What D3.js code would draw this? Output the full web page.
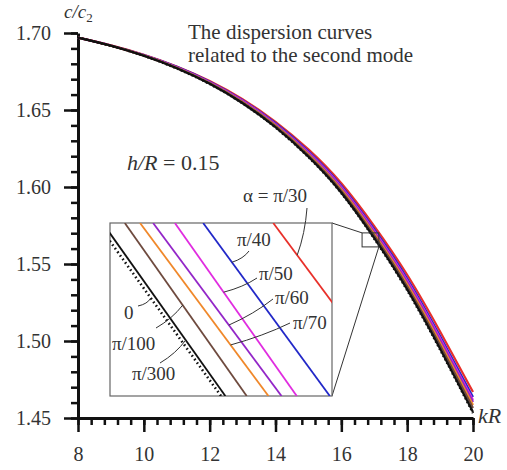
<!DOCTYPE html>
<html>
<head>
<meta charset="utf-8">
<script src="https://cdn.jsdelivr.net/npm/d3@7"></script>
<style>
  body { margin: 0; background: #fff; }
  text { font-family: "Liberation Serif", "Times New Roman", serif; fill: #333; }
</style>
</head>
<body>
<div id="viz"></div>
<script>
// kR grid and c/c2 values
const kR = [8, 9, 10, 11, 12, 13, 14, 15, 16, 17, 18, 19, 20];
const cAlpha0   = [1.697, 1.6917, 1.6852, 1.6770, 1.6669, 1.6543, 1.6386, 1.6194, 1.5960, 1.5664, 1.5330, 1.4944, 1.4532];
const cAlpha300 = [1.697, 1.6917, 1.6852, 1.6771, 1.6670, 1.6544, 1.6388, 1.6197, 1.5963, 1.5668, 1.5335, 1.4950, 1.4539];
const cAlpha100 = [1.697, 1.6918, 1.6853, 1.6773, 1.6674, 1.6549, 1.6395, 1.6206, 1.5975, 1.5684, 1.5354, 1.4972, 1.4565];
const cAlpha70  = [1.697, 1.6918, 1.6854, 1.6775, 1.6676, 1.6553, 1.6400, 1.6213, 1.5984, 1.5695, 1.5368, 1.4989, 1.4584];
const cAlpha60  = [1.697, 1.6918, 1.6855, 1.6777, 1.6679, 1.6557, 1.6406, 1.6220, 1.5994, 1.5707, 1.5382, 1.5006, 1.4604];
const cAlpha50  = [1.697, 1.6919, 1.6856, 1.6778, 1.6681, 1.6560, 1.6409, 1.6225, 1.6000, 1.5715, 1.5392, 1.5017, 1.4617];
const cAlpha40  = [1.697, 1.6919, 1.6857, 1.6780, 1.6684, 1.6563, 1.6414, 1.6232, 1.6009, 1.5726, 1.5406, 1.5033, 1.4636];
const cAlpha30  = [1.697, 1.6920, 1.6859, 1.6783, 1.6688, 1.6570, 1.6423, 1.6244, 1.6024, 1.5746, 1.5430, 1.5062, 1.4669];

const alphaLabels = ['0', 'π/300', 'π/100', 'π/70', 'π/60', 'π/50', 'π/40', 'α = π/30'];
const colorsList = ['#111', '#111', '#6e4a3e', '#f0882a', '#9326c8', '#e02ce0', '#2228c8', '#e8302a'];

// zoom window (inset): kR where each line crosses the top and bottom of the window
const insetKR = [16.63, 17.14];
const insetC = [1.5611, 1.5702];
const insetTopKR    = [16.600, 16.613, 16.664, 16.699, 16.729, 16.779, 16.844, 17.005];
const insetBottomKR = [16.885, 16.895, 16.944, 16.994, 17.024, 17.059, 17.135, 17.301];

const yTicks = [1.45, 1.50, 1.55, 1.60, 1.65, 1.70];
const xTicks = [8, 10, 12, 14, 16, 18, 20];

const width = 507, height = 470;
const margin = { top: 33, right: 34, bottom: 52, left: 78 };

const series = [cAlpha0, cAlpha300, cAlpha100, cAlpha70, cAlpha60, cAlpha50, cAlpha40, cAlpha30]
  .map((vals, i) => ({
    label: alphaLabels[i],
    color: colorsList[i],
    dotted: i === 0,
    values: vals.map((c, j) => ({ k: kR[j], c: c })),
    inset: [{ k: insetTopKR[i], c: insetC[1] }, { k: insetBottomKR[i], c: insetC[0] }]
  }));

const svg = d3.select('#viz').append('svg')
  .attr('width', width)
  .attr('height', height);

const x = d3.scaleLinear().domain([8, 20]).range([margin.left, width - margin.right]);
const y = d3.scaleLinear().domain([1.45, 1.70]).range([height - margin.bottom, margin.top]);

// minor ticks
svg.append('g')
  .attr('transform', 'translate(0,' + y(1.45) + ')')
  .call(d3.axisBottom(x).tickValues(d3.range(0, 31).map(i => 8 + i * 0.4)).tickSize(7).tickFormat(''))
  .call(g => g.selectAll('line').attr('stroke', '#111').attr('stroke-width', 2.5))
  .call(g => g.select('.domain').remove());
svg.append('g')
  .attr('transform', 'translate(' + x(8) + ',0)')
  .call(d3.axisLeft(y).tickValues(d3.range(0, 26).map(i => 1.45 + i * 0.01)).tickSize(7).tickFormat(''))
  .call(g => g.selectAll('line').attr('stroke', '#111').attr('stroke-width', 2.5))
  .call(g => g.select('.domain').remove());

// major ticks + labels
const xAxis = svg.append('g')
  .attr('transform', 'translate(0,' + y(1.45) + ')')
  .call(d3.axisBottom(x).tickValues(xTicks).tickSize(14).tickPadding(15).tickSizeOuter(0));
const yAxis = svg.append('g')
  .attr('transform', 'translate(' + x(8) + ',0)')
  .call(d3.axisLeft(y).tickValues(yTicks).tickSize(14).tickPadding(13).tickFormat(d3.format('.2f')).tickSizeOuter(0));

[xAxis, yAxis].forEach(g => {
  g.select('.domain').attr('stroke', '#111').attr('stroke-width', 3);
  g.selectAll('line').attr('stroke', '#111').attr('stroke-width', 2.5);
  g.selectAll('text').style('font-size', '20px').attr('fill', '#3a3a3a')
    .style('font-family', '"Liberation Serif", serif');
});

// axis titles
const cLab = svg.append('text').attr('x', 64).attr('y', 18)
  .style('font-size', '19px').style('font-style', 'italic');
cLab.append('tspan').text('c/c');
cLab.append('tspan').attr('dy', 4).style('font-size', '13px').style('font-style', 'normal').text('2');

svg.append('text').attr('x', 478).attr('y', 423)
  .style('font-size', '22px').style('font-style', 'italic').text('kR');

svg.append('text').attr('x', 188).attr('y', 39).style('font-size', '21px').text('The dispersion curves');
svg.append('text').attr('x', 188).attr('y', 62).style('font-size', '21px').text('related to the second mode');

const hr = svg.append('text').attr('x', 127).attr('y', 170).style('font-size', '22px');
hr.append('tspan').style('font-style', 'italic').text('h/R');
hr.append('tspan').text(' = 0.15');

// main curves
const line = d3.line().x(d => x(d.k)).y(d => y(d.c)).curve(d3.curveNatural);

svg.append('g').selectAll('path')
  .data(series.slice().reverse())
  .enter().append('path')
  .attr('d', d => line(d.values))
  .attr('fill', 'none')
  .attr('stroke', d => d.color)
  .attr('stroke-width', d => d.dotted ? 2.5 : 2.2)
  .attr('stroke-dasharray', d => d.dotted ? '1.5,2.5' : null);

// zoom box in the main plot
const box = {
  x0: x(insetKR[0]), x1: x(insetKR[1]),
  y0: y(insetC[1]), y1: y(insetC[0])
};
svg.append('rect')
  .attr('x', box.x0).attr('y', box.y0)
  .attr('width', box.x1 - box.x0).attr('height', box.y1 - box.y0)
  .attr('fill', 'none').attr('stroke', '#333').attr('stroke-width', 1);

// inset
const inset = { left: 110, right: 332, top: 223, bottom: 396 };
const xi = d3.scaleLinear().domain(insetKR).range([inset.left, inset.right]);
const yi = d3.scaleLinear().domain(insetC).range([inset.bottom, inset.top]);

svg.append('line').attr('x1', inset.right).attr('y1', inset.top).attr('x2', box.x0).attr('y2', box.y0)
  .attr('stroke', '#333').attr('stroke-width', 1);
svg.append('line').attr('x1', inset.right).attr('y1', inset.bottom).attr('x2', box.x1).attr('y2', box.y1)
  .attr('stroke', '#333').attr('stroke-width', 1);

svg.append('rect')
  .attr('x', inset.left).attr('y', inset.top)
  .attr('width', inset.right - inset.left).attr('height', inset.bottom - inset.top)
  .attr('fill', '#fff').attr('stroke', '#666').attr('stroke-width', 1.2);

svg.append('clipPath').attr('id', 'insetClip')
  .append('rect')
  .attr('x', inset.left).attr('y', inset.top)
  .attr('width', inset.right - inset.left).attr('height', inset.bottom - inset.top);

const insetLine = d3.line().x(d => xi(d.k)).y(d => yi(d.c));

svg.append('g').attr('clip-path', 'url(#insetClip)')
  .selectAll('path')
  .data(series)
  .enter().append('path')
  .attr('d', d => insetLine(d.inset))
  .attr('fill', 'none')
  .attr('stroke', d => d.color)
  .attr('stroke-width', d => d.dotted ? 2.6 : 1.8)
  .attr('stroke-dasharray', d => d.dotted ? '1.6,2.8' : null);

// labels with leader lines: [series index, label x, label baseline, leader start x, y, fraction down the window]
const labelSpots = [
  [7, 243, 202, 307, 208, 0.186],
  [6, 237, 246, 249, 251, 0.227],
  [5, 259, 280, 257, 278, 0.40],
  [4, 275, 304, 273, 299, 0.59],
  [3, 293, 329, 290, 323, 0.705],
  [0, 124, 319, 138, 306, 0.434],
  [2, 112, 350, 156, 328, 0.475],
  [1, 132, 380, 160, 363, 0.677]
];

const ann = svg.append('g');
labelSpots.forEach(s => {
  const d = series[s[0]];
  const t = s[5];
  const tk = d.inset[0].k + (d.inset[1].k - d.inset[0].k) * t;
  const tc = d.inset[0].c + (d.inset[1].c - d.inset[0].c) * t;
  const ex = xi(tk), ey = yi(tc);
  const mx = (s[3] + ex) / 2 + 3, my = (s[4] + ey) / 2 + 2;
  ann.append('path')
    .attr('d', 'M' + s[3] + ',' + s[4] + 'Q' + mx + ',' + my + ' ' + ex + ',' + ey)
    .attr('fill', 'none').attr('stroke', '#333').attr('stroke-width', 1);
  ann.append('text').attr('x', s[1]).attr('y', s[2])
    .style('font-size', '19px').text(d.label);
});
</script>
</body>
</html>
